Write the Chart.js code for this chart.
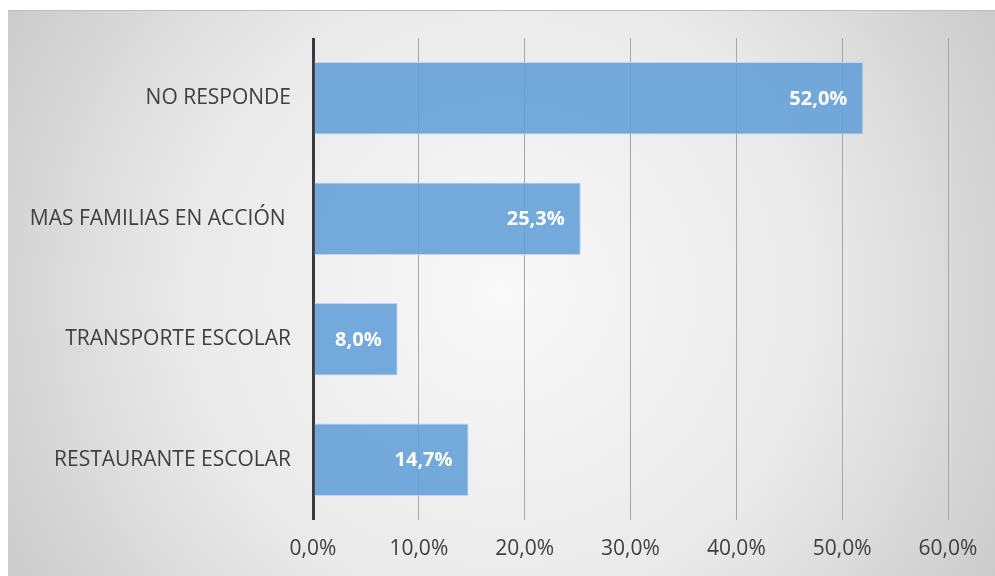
<!DOCTYPE html>
<html>
<head>
<meta charset="utf-8">
<script src="https://cdn.jsdelivr.net/npm/chart.js@4"></script>
<style>
  html, body { margin: 0; padding: 0; background: #fff; }
  #wrap { width: 995px; height: 576px; }
</style>
</head>
<body>
<div id="wrap"><canvas id="chartPrograma"></canvas></div>
<script>
// Datos del gráfico
const categorias = ['NO RESPONDE', 'MAS FAMILIAS EN ACCIÓN ', 'TRANSPORTE ESCOLAR', 'RESTAURANTE ESCOLAR'];
const porcentajes = [52.0, 25.3, 8.0, 14.7];
const ticksX = [0, 10, 20, 30, 40, 50, 60];

const fmt = v => v.toFixed(1).replace('.', ',') + '%';

// Fondo degradado gris
const fondo = {
    id: 'fondo',
    beforeDraw(chart) {
        const ctx = chart.ctx;
        const x0 = 8, y0 = 10, w = chart.width - x0, h = chart.height - y0;
        const g = ctx.createRadialGradient(x0 + w / 2, y0 + h / 2, 0, x0 + w / 2, y0 + h / 2, w * 0.6);
        g.addColorStop(0, '#f9f9f9');
        g.addColorStop(0.55, '#e9e9e9');
        g.addColorStop(1, '#c8c8c8');
        ctx.save();
        ctx.fillStyle = g;
        ctx.fillRect(x0, y0, w, h);
        ctx.strokeStyle = '#bdbdbd';
        ctx.lineWidth = 1;
        ctx.beginPath();
        ctx.moveTo(x0, y0 + 0.5);
        ctx.lineTo(chart.width, y0 + 0.5);
        ctx.stroke();
        ctx.restore();
    }
};

// Etiquetas dentro de las barras
const etiquetas = {
    id: 'etiquetas',
    afterDatasetsDraw(chart) {
        const ctx = chart.ctx;
        const meta = chart.getDatasetMeta(0);
        ctx.save();
        ctx.font = 'bold 20px "Open Sans", sans-serif';
        ctx.fillStyle = '#ffffff';
        ctx.textAlign = 'right';
        ctx.textBaseline = 'middle';
        meta.data.forEach((bar, i) => {
            ctx.fillText(fmt(porcentajes[i]), bar.x - 16, bar.y + 1);
        });
        ctx.restore();
    }
};

new Chart(document.getElementById('chartPrograma').getContext('2d'), {
    type: 'bar',
    data: {
        labels: categorias,
        datasets: [{
            data: porcentajes,
            backgroundColor: 'rgba(98, 158, 215, 0.88)',
            borderColor: 'rgba(190, 215, 238, 1)',
            borderWidth: 1,
            barPercentage: 0.6,
            categoryPercentage: 1
        }]
    },
    options: {
        indexAxis: 'y',
        responsive: true,
        maintainAspectRatio: false,
        animation: false,
        layout: { padding: { top: 38, right: 47, left: 0, bottom: 0 } },
        plugins: {
            legend: { display: false },
            tooltip: { enabled: false }
        },
        scales: {
            x: {
                min: 0,
                max: 60,
                afterBuildTicks: s => { s.ticks = ticksX.map(v => ({ value: v })); },
                afterFit: s => { s.height = 56; },
                border: { display: false },
                grid: {
                    drawTicks: false,
                    color: ctx => ctx.index === 0 ? '#3a3a3a' : '#a6a6a6',
                    lineWidth: ctx => ctx.index === 0 ? 3 : 1
                },
                ticks: {
                    padding: 16,
                    color: '#404040',
                    font: { size: 21, family: '"Open Sans", sans-serif' },
                    callback: v => fmt(v)
                }
            },
            y: {
                afterFit: s => { s.width = 313; },
                border: { display: false },
                grid: { display: false, drawTicks: false },
                ticks: {
                    padding: 22,
                    color: '#404040',
                    font: { size: 21, family: '"Open Sans", sans-serif' }
                }
            }
        }
    },
    plugins: [fondo, etiquetas]
});
</script>
</body>
</html>
